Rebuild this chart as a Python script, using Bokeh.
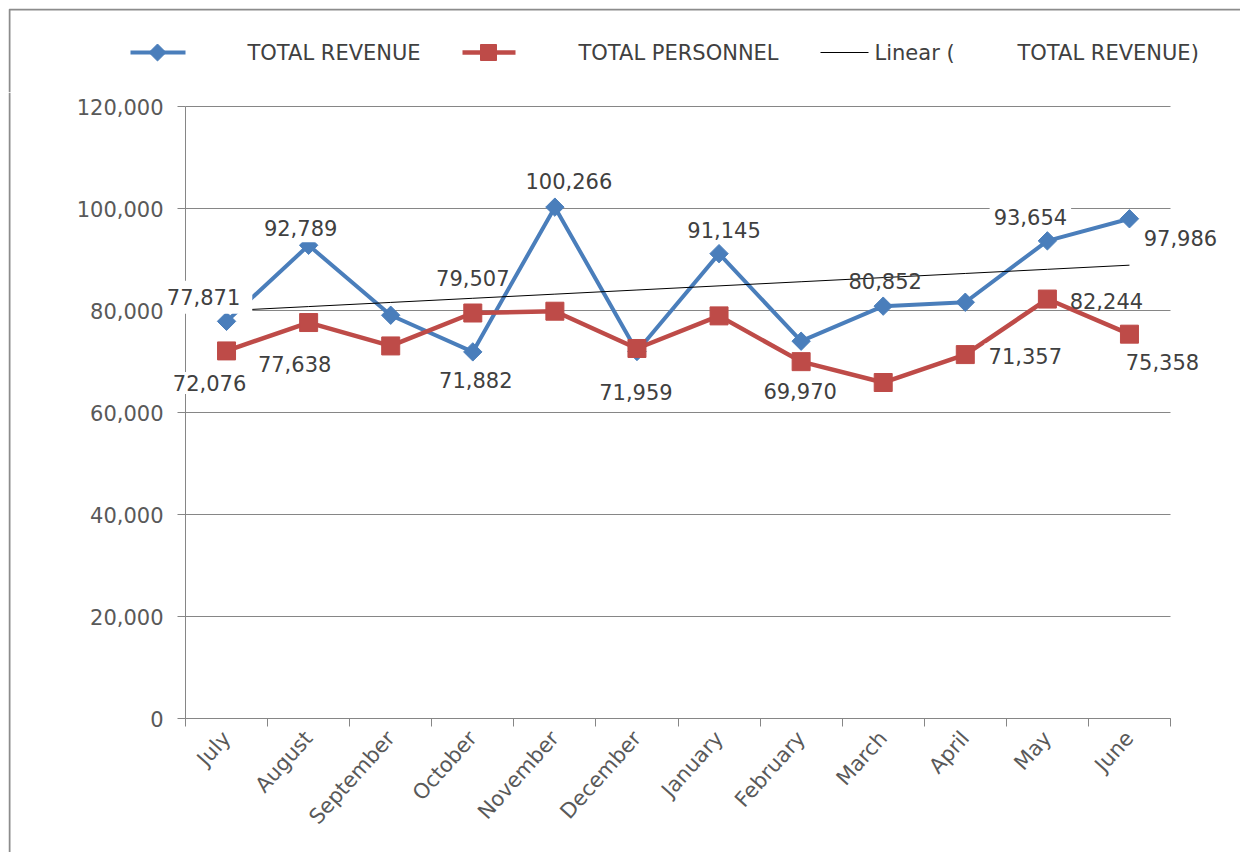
import numpy as np
from bokeh.plotting import figure
from bokeh.models import Range1d, FixedTicker, NumeralTickFormatter, Label
from bokeh.layouts import column
from bokeh.embed import file_html
from bokeh.resources import INLINE
from bokeh.core.properties import value

# ---------------- data ----------------
months = ["July", "August", "September", "October", "November", "December",
          "January", "February", "March", "April", "May", "June"]
revenue = [77871, 92789, 79070, 71882, 100266, 71959, 91145, 73980, 80852, 81620, 93654, 97986]
personnel = [72076, 77638, 73050, 79507, 79860, 72550, 78940, 69970, 65880, 71357, 82244, 75358]
y_ticks = [0, 20000, 40000, 60000, 80000, 100000, 120000]
series_names = ["TOTAL REVENUE", "TOTAL PERSONNEL"]
trend_name = ["Linear (", "TOTAL REVENUE)"]

# which points carry a data label (month index)
revenue_labelled = [0, 1, 3, 4, 5, 6, 8, 10, 11]
personnel_labelled = [0, 1, 3, 7, 9, 10, 11]

# ---------------- label placement (screen px: dx right, dy down, box padding or None) ----------------
rev_place = {0: (-17, -24, {"left": 0, "right": 12, "top": 8, "bottom": 9}), 1: (-8, -17, 6),
             3: (3, 28, 4), 4: (14, -26, 4), 5: (-1, 40, 4),
             6: (5, -24, 6), 8: (2, -25, None), 10: (-17, -24, 4), 11: (51, 19, 4)}
per_place = {0: (-17, 32, 3), 1: (-14, 41, 4), 3: (0, -35, None), 7: (-1, 29, 3),
             9: (60, 1, 4), 10: (59, 2, None), 11: (33, 28, 4)}

BLUE = "#4A7EBB"
RED = "#BE4B48"
GRID = "#868686"
BORDER = "#8c8c8c"
FONT = "DejaVu Sans"
TXT = "#404040"

W = 1232
HEAD_H = 84
MAIN_H = 760
AX0, AX1 = 177, 1162        # category axis start / end (figure px)
Y_TOP, Y_BOT = 14, 626      # 120,000 and 0 (figure px from top)
n = len(months)
unit = (AX1 - AX0) / n
x_start = -AX0 / unit
x_end = n + (W - AX1) / unit
ypx = (Y_BOT - Y_TOP) / (y_ticks[-1] - y_ticks[0])
y_start = y_ticks[0] - (MAIN_H - Y_BOT) / ypx
y_end = y_ticks[-1] + Y_TOP / ypx

xs = np.arange(n) + 0.5
idx = np.arange(n)
coef = np.polyfit(idx, revenue, 1)
trend = np.polyval(coef, idx)

# ---------------- main chart ----------------
p = figure(width=W, height=MAIN_H, x_range=Range1d(x_start, x_end),
           y_range=Range1d(y_start, y_end),
           output_backend="svg", toolbar_location=None,
           min_border_left=0, min_border_right=0, min_border_top=0, min_border_bottom=0)
p.outline_line_color = None
p.background_fill_color = "white"
p.border_fill_color = "white"
p.grid.visible = False

# chart-area border (left edge)
bx = x_start + 1 / unit
p.segment(x0=[bx], y0=[y_start], x1=[bx], y1=[y_end], line_color=BORDER, line_width=2)

# horizontal gridlines only across the category span
p.segment(x0=[0] * len(y_ticks), y0=y_ticks, x1=[n] * len(y_ticks), y1=y_ticks,
          line_color=GRID, line_width=1)

p.yaxis.fixed_location = 0
p.yaxis.bounds = (y_ticks[0], y_ticks[-1])
p.yaxis.ticker = FixedTicker(ticks=y_ticks)
p.yaxis.formatter = NumeralTickFormatter(format="0,0")
p.yaxis.axis_line_color = GRID
p.yaxis.major_tick_line_color = GRID
p.yaxis.major_tick_out = 8
p.yaxis.major_tick_in = 0
p.yaxis.minor_tick_line_color = None
p.yaxis.major_label_text_font = FONT
p.yaxis.major_label_text_font_size = "21px"
p.yaxis.major_label_text_color = "#595959"
p.yaxis.major_label_standoff = 14

p.xaxis.fixed_location = 0
p.xaxis.bounds = (0, n)
p.xaxis.ticker = FixedTicker(ticks=list(xs), minor_ticks=list(range(n + 1)))
p.xaxis.major_label_overrides = {float(x): m for x, m in zip(xs, months)}
p.xaxis.axis_line_color = GRID
p.xaxis.major_tick_line_color = None
p.xaxis.minor_tick_line_color = GRID
p.xaxis.minor_tick_out = 8
p.xaxis.minor_tick_in = 0
p.xaxis.major_label_orientation = 0.84
p.xaxis.major_label_text_font = FONT
p.xaxis.major_label_text_font_size = "21px"
p.xaxis.major_label_text_color = "#595959"
p.xaxis.major_label_standoff = 8

p.line(xs, revenue, line_color=BLUE, line_width=4)
p.scatter(xs, revenue, marker="square", angle=np.pi / 4, size=13, fill_color=BLUE, line_color=BLUE)
p.line(xs, personnel, line_color=RED, line_width=4.5)
p.scatter(xs, personnel, marker="square", size=18, fill_color=RED, line_color=RED)
p.line(xs, trend, line_color="black", line_width=1)


def add_labels(values, labelled, place):
    for i in labelled:
        dx, dy, pad = place[i]
        kw = dict(x=float(xs[i]), y=values[i], text=f"{values[i]:,}",
                  x_offset=dx, y_offset=-dy, text_align="center", text_baseline="middle",
                  text_font=FONT, text_font_size="21px", text_color=TXT)
        if pad is not None:
            kw.update(background_fill_color="white", padding=pad)
        p.add_layout(Label(**kw))


add_labels(revenue, revenue_labelled, rev_place)
add_labels(personnel, personnel_labelled, per_place)

# ---------------- legend header (data coords == figure px) ----------------
h = figure(width=W, height=HEAD_H, x_range=Range1d(0, W), y_range=Range1d(HEAD_H, 0),
           x_axis_type=None, y_axis_type=None,
           min_border_left=0, min_border_right=0, min_border_top=0, min_border_bottom=0,
           output_backend="svg", toolbar_location=None)
h.outline_line_color = None
h.grid.visible = False
# chart-area border (top and left edges)
h.line([1, 1, W], [HEAD_H, 1, 1], line_color=BORDER, line_width=2)
LY = 44
h.line([122, 177], [LY, LY], line_color=BLUE, line_width=4)
h.scatter([149], [LY], marker="square", angle=np.pi / 4, size=12, fill_color=BLUE, line_color=BLUE)
h.line([454, 507], [LY, LY], line_color=RED, line_width=4.5)
h.scatter([480], [LY], marker="square", size=16, fill_color=RED, line_color=RED)
h.line([812, 860], [LY, LY], line_color="black", line_width=1)
h.text(x=[239, 570, 866, 1009], y=[LY] * 4,
       text=[series_names[0], series_names[1], trend_name[0], trend_name[1]],
       text_font=value(FONT), text_font_size="21px", text_color=TXT,
       text_baseline="middle", text_align="left")

layout = column(h, p, spacing=0, styles={"margin-left": "8px", "margin-top": "8px"})

open("out.html", "w").write(file_html(layout, INLINE))
